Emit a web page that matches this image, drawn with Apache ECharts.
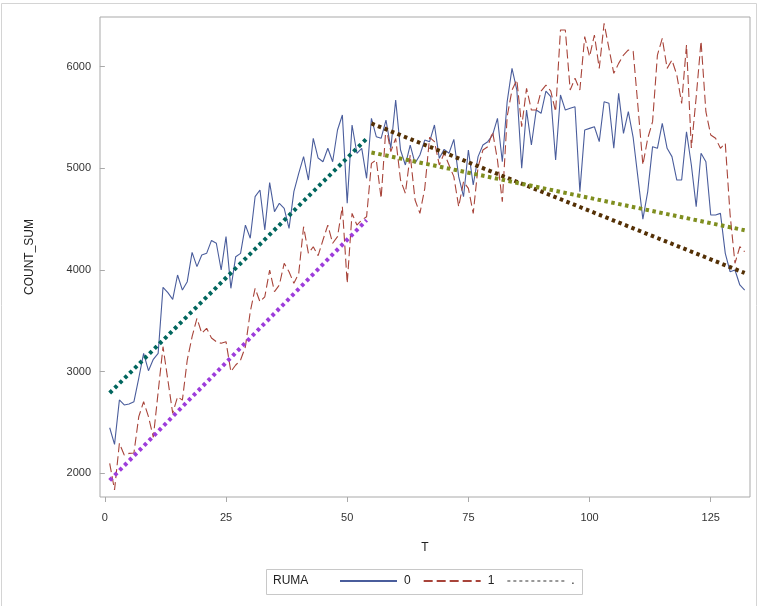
<!DOCTYPE html>
<html>
<head>
<meta charset="utf-8">
<script src="https://cdn.jsdelivr.net/npm/echarts@6/dist/echarts.min.js"></script>
<style>
  html, body { margin: 0; padding: 0; background: #fff; }
  #chart { width: 758px; height: 606px; }
</style>
</head>
<body>
<div id="chart"></div>
<script>
// T runs 1..132 (one point per period)
const T = Array.from({ length: 132 }, (_, i) => i + 1);

// COUNT_SUM, RUMA = 0
const ruma0 = [
  2448, 2285, 2721, 2672, 2681, 2704, 2937, 3180, 3009, 3121,
  3180, 3829, 3776, 3711, 3950, 3802, 3884, 4173, 4032, 4147,
  4163, 4290, 4262, 3999, 4327, 3819, 4130, 4163, 4441, 4311,
  4720, 4786, 4392, 4858, 4573, 4655, 4606, 4409, 4770, 4950,
  5114, 4884, 5294, 5100, 5064, 5196, 5064, 5376, 5523, 4655,
  5425, 5147, 5196, 4901, 5491, 5310, 5294, 5474, 5196, 5671,
  5179, 5032, 5228, 5048, 5130, 5277, 5261, 5425, 5097, 5186,
  5147, 5284, 4917, 4720, 5179, 4835, 5114, 5228, 5261, 5327,
  5491, 5064, 5654, 5982, 5769, 4999, 5572, 5228, 5572, 5540,
  5759, 5703, 5081, 5720, 5572, 5589, 5605, 4770, 5376, 5392,
  5408, 5261, 5654, 5638, 5196, 5736, 5343, 5556, 5300, 4900,
  4500, 4770, 5212, 5196, 5442, 5196, 5114, 4884, 4884, 5359,
  5032, 4622, 5147, 5064, 4540, 4540, 4556, 4163, 3982, 3999,
  3852, 3802
];

// COUNT_SUM, RUMA = 1
const ruma1 = [
  2098, 1836, 2295, 2180, 2196, 2200, 2557, 2704, 2557, 2354,
  2800, 3245, 2917, 2590, 2753, 2720, 3114, 3343, 3524, 3377,
  3426, 3330, 3294, 3278, 3294, 2999, 3065, 3114, 3245, 3589,
  3819, 3687, 3736, 3999, 3786, 3852, 4065, 3982, 3868, 3966,
  4425, 4163, 4228, 4140, 4294, 4441, 4262, 4327, 4622, 3868,
  4556, 4441, 4490, 4523, 5048, 5081, 4704, 5408, 5163, 5294,
  4884, 4753, 5130, 4687, 4556, 4800, 5304, 5261, 5032, 5147,
  5032, 4917, 4622, 4868, 4802, 4556, 5015, 5179, 5212, 5359,
  5081, 4671, 5507, 5769, 5867, 5408, 5786, 5572, 5572, 5759,
  5818, 5759, 5556, 6359, 6359, 5769, 5884, 5769, 6294, 6097,
  6310, 5982, 6425, 6179, 5933, 6031, 6113, 6163, 6150, 5600,
  5032, 5294, 5458, 6113, 6277, 5982, 6064, 5917, 5638, 6212,
  5200, 5700, 6250, 5556, 5327, 5294, 5196, 5245, 4540, 4065,
  4228, 4179
];

// fitted trend lines (start/end)
const fitEarlyT = [1, 54];
const fitEarly0 = [2790, 5290];
const fitEarly1 = [1930, 4490];
const fitLateT = [55, 132];
const fitLateA = [5440, 3970];
const fitLateB = [5155, 4390];

const xTicks = [0, 25, 50, 75, 100, 125];
const yTicks = [2000, 3000, 4000, 5000, 6000];

function pairs(xs, ys) {
  return xs.map(function (x, i) { return [x, ys[i]]; });
}

const font = '"Liberation Sans", Arial, sans-serif';

function fitLine(xs, ys, color) {
  return {
    type: 'line',
    data: pairs(xs, ys),
    symbol: 'none',
    silent: true,
    z: 5,
    lineStyle: { color: color, width: 4, type: [3.5, 3.5], cap: 'butt' }
  };
}

const chart = echarts.init(document.getElementById('chart'), null, { renderer: 'canvas' });
chart.setOption({
  animation: false,
  backgroundColor: '#fff',
  grid: {
    left: 100, top: 17, right: 8, bottom: 109,
    show: true, borderColor: '#a9a9a9', borderWidth: 1
  },
  xAxis: {
    type: 'value',
    min: -1, max: 133.1,
    name: 'T',
    nameLocation: 'middle',
    nameGap: 45,
    nameTextStyle: { fontFamily: font, fontSize: 12, color: '#222' },
    axisLine: { show: false },
    splitLine: { show: false },
    axisTick: { show: true, customValues: xTicks, length: 5, lineStyle: { color: '#a9a9a9' } },
    axisLabel: { customValues: xTicks, fontFamily: font, fontSize: 11, color: '#333', margin: 15 }
  },
  yAxis: {
    type: 'value',
    min: 1767, max: 6487,
    name: 'COUNT_SUM',
    nameLocation: 'middle',
    nameGap: 64,
    nameTextStyle: { fontFamily: font, fontSize: 12, color: '#222' },
    axisLine: { show: false },
    splitLine: { show: false },
    axisTick: { show: true, customValues: yTicks, length: 5, lineStyle: { color: '#a9a9a9' } },
    axisLabel: {
      customValues: yTicks, fontFamily: font, fontSize: 11, color: '#333', margin: 9,
      formatter: function (v) { return String(v); }
    }
  },
  legend: {
    left: 339, top: 575, padding: 0,
    itemWidth: 57, itemHeight: 12, itemGap: 12,
    itemStyle: { opacity: 0 },
    textStyle: { fontFamily: font, fontSize: 12, color: '#222', padding: [0, 0, 0, 2] },
    data: ['0', '1', '.']
  },
  graphic: [
    { type: 'rect', shape: { x: 1.5, y: 3.5, width: 755, height: 620 }, style: { fill: 'none', stroke: '#d4d4d4', lineWidth: 1 }, silent: true },
    { type: 'rect', shape: { x: 266.5, y: 569.5, width: 316, height: 25 }, style: { fill: 'none', stroke: '#c8c8c8', lineWidth: 1 }, silent: true },
    { type: 'text', left: 273, top: 575, style: { text: 'RUMA', font: '12px ' + font, fill: '#222' }, silent: true }
  ],
  series: [
    {
      name: '0', type: 'line', data: pairs(T, ruma0), symbol: 'none',
      lineStyle: { color: '#4a5d9c', width: 1.1 }, itemStyle: { color: '#4a5d9c' }
    },
    {
      name: '1', type: 'line', data: pairs(T, ruma1), symbol: 'none',
      lineStyle: { color: '#a8443a', width: 1.1, type: [9, 4] }, itemStyle: { color: '#a8443a' }
    },
    {
      name: '.', type: 'line', data: [], symbol: 'none',
      lineStyle: { color: '#999999', width: 1, type: [3, 3] }, itemStyle: { color: '#999999' }
    },
    fitLine(fitEarlyT, fitEarly0, '#01665E'),
    fitLine(fitEarlyT, fitEarly1, '#9D3CDB'),
    fitLine(fitLateT, fitLateA, '#543005'),
    fitLine(fitLateT, fitLateB, '#7F8E1F')
  ]
});
</script>
</body>
</html>
